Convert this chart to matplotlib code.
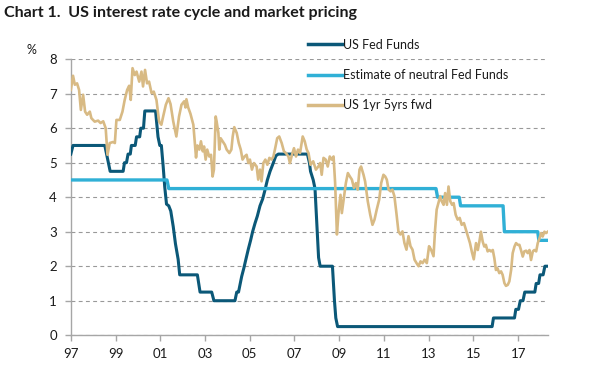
import numpy as np
import matplotlib
matplotlib.use("Agg")
import matplotlib.pyplot as plt

plt.rcParams['font.family'] = ['Lato', 'DejaVu Sans']

# US Fed Funds (upper bound)
ff_year = [1997.00, 1997.10, 1998.52, 1998.60, 1998.68, 1998.76, 1999.34, 1999.40, 1999.49,
           1999.56, 1999.66, 1999.71, 1999.88, 1999.94, 2000.08, 2000.13, 2000.25, 2000.31,
           2000.79, 2000.90, 2000.98, 2001.05, 2001.13, 2001.20, 2001.28, 2001.38, 2001.47,
           2001.58, 2001.68, 2001.80, 2001.87, 2002.66, 2002.78, 2003.30, 2003.40, 2004.34,
           2004.42, 2004.50, 2004.64, 2004.74, 2004.83, 2004.94, 2005.04, 2005.13, 2005.24,
           2005.34, 2005.46, 2005.58, 2005.68, 2005.79, 2005.91, 2006.03, 2006.17, 2006.28,
           2007.58, 2007.67, 2007.72, 2007.84, 2007.92, 2008.02, 2008.08, 2008.15, 2008.70,
           2008.79, 2008.85, 2008.93, 2015.84, 2015.90, 2016.84, 2016.90, 2017.02, 2017.10,
           2017.22, 2017.30, 2017.75, 2017.81, 2017.92, 2017.98, 2018.12, 2018.20, 2018.33]
ff_rate = [5.25, 5.50, 5.50, 5.25, 5.00, 4.75, 4.75, 5.00, 5.00,
           5.25, 5.25, 5.50, 5.50, 5.75, 5.75, 6.00, 6.00, 6.50,
           6.50, 5.75, 5.50, 5.50, 4.90, 4.30, 3.80, 3.75, 3.60,
           3.15, 2.65, 2.20, 1.75, 1.75, 1.25, 1.25, 1.00, 1.00,
           1.25, 1.25, 1.70, 1.95, 2.20, 2.50, 2.75, 3.00, 3.25,
           3.45, 3.75, 3.95, 4.20, 4.50, 4.75, 4.95, 5.20, 5.25,
           5.25, 5.00, 4.75, 4.50, 4.25, 3.00, 2.25, 2.00, 2.00,
           1.00, 0.50, 0.25, 0.25, 0.50, 0.50, 0.75, 0.75, 1.00,
           1.00, 1.25, 1.25, 1.50, 1.50, 1.75, 1.75, 2.00, 2.00]

# Estimate of neutral Fed Funds
nf_year = [1997.00, 2001.30, 2001.38, 2013.33, 2013.40, 2014.37, 2014.43,
           2016.33, 2016.39, 2017.88, 2017.93, 2018.33]
nf_rate = [4.50, 4.50, 4.25, 4.25, 4.00, 4.00, 3.75,
           3.75, 3.00, 3.00, 2.75, 2.75]

# US 1yr 5yrs forward
fw_year = [1997.00, 1997.10, 1997.18, 1997.28, 1997.37, 1997.45, 1997.55, 1997.64, 1997.73,
           1997.85, 1997.92, 1998.07, 1998.22, 1998.33, 1998.45, 1998.56, 1998.64, 1998.74,
           1998.89, 1998.97, 1999.04, 1999.19, 1999.31, 1999.41, 1999.52, 1999.61, 1999.68,
           1999.76, 1999.86, 1999.94, 2000.06, 2000.16, 2000.23, 2000.32, 2000.41, 2000.50,
           2000.61, 2000.71, 2000.83, 2000.95, 2001.05, 2001.13, 2001.25, 2001.37, 2001.46,
           2001.58, 2001.72, 2001.84, 2001.95, 2002.07, 2002.13, 2002.17, 2002.25, 2002.35,
           2002.48, 2002.60, 2002.66, 2002.75, 2002.82, 2002.90, 2002.96, 2003.03, 2003.10,
           2003.19, 2003.27, 2003.34, 2003.40, 2003.48, 2003.52, 2003.60, 2003.64, 2003.70,
           2003.79, 2003.89, 2003.97, 2004.09, 2004.18, 2004.24, 2004.31, 2004.42, 2004.51,
           2004.60, 2004.68, 2004.77, 2004.86, 2004.94, 2005.01, 2005.10, 2005.19, 2005.31,
           2005.38, 2005.46, 2005.53, 2005.61, 2005.70, 2005.79, 2005.88, 2005.98, 2006.06,
           2006.14, 2006.23, 2006.32, 2006.43, 2006.53, 2006.62, 2006.73, 2006.80, 2006.89,
           2006.98, 2007.07, 2007.16, 2007.25, 2007.37, 2007.46, 2007.55, 2007.63, 2007.72,
           2007.84, 2007.96, 2008.07, 2008.15, 2008.22, 2008.30, 2008.40, 2008.49, 2008.58,
           2008.67, 2008.75, 2008.82, 2008.90, 2008.97, 2009.06, 2009.12, 2009.19, 2009.30,
           2009.39, 2009.48, 2009.57, 2009.66, 2009.75, 2009.83, 2009.91, 2009.98, 2010.09,
           2010.16, 2010.28, 2010.39, 2010.49, 2010.58, 2010.68, 2010.79, 2010.88, 2010.98,
           2011.06, 2011.13, 2011.21, 2011.30, 2011.38, 2011.47, 2011.56, 2011.65, 2011.74,
           2011.83, 2011.92, 2012.01, 2012.10, 2012.19, 2012.28, 2012.37, 2012.46, 2012.55,
           2012.64, 2012.73, 2012.82, 2012.92, 2013.02, 2013.11, 2013.22, 2013.29, 2013.36,
           2013.44, 2013.52, 2013.59, 2013.67, 2013.74, 2013.82, 2013.89, 2013.97, 2014.05,
           2014.12, 2014.21, 2014.30, 2014.39, 2014.48, 2014.58, 2014.67, 2014.76, 2014.85,
           2014.94, 2015.02, 2015.12, 2015.20, 2015.27, 2015.34, 2015.42, 2015.49, 2015.56,
           2015.64, 2015.72, 2015.79, 2015.87, 2015.94, 2016.01, 2016.08, 2016.16, 2016.24,
           2016.31, 2016.39, 2016.46, 2016.54, 2016.61, 2016.69, 2016.76, 2016.84, 2016.91,
           2016.99, 2017.06, 2017.13, 2017.21, 2017.28, 2017.36, 2017.43, 2017.51, 2017.58,
           2017.66, 2017.73, 2017.81, 2017.88, 2017.96, 2018.03, 2018.10, 2018.18, 2018.25,
           2018.33]
fw_rate = [7.11, 7.52, 7.26, 7.30, 7.11, 6.53, 6.97, 6.48, 6.39,
           6.48, 6.29, 6.19, 6.22, 6.15, 6.20, 6.00, 5.23, 5.57,
           5.60, 5.57, 6.24, 6.24, 6.48, 6.82, 7.11, 7.23, 6.82,
           7.74, 7.54, 7.64, 7.35, 7.64, 7.21, 7.69, 7.30, 7.35,
           7.02, 7.06, 6.82, 6.19, 6.10, 6.34, 6.68, 6.87, 6.70,
           6.20, 5.76, 6.34, 6.68, 6.78, 6.60, 6.84, 6.60, 6.42,
           6.10, 5.15, 5.50, 5.38, 5.62, 5.33, 5.47, 5.09, 5.38,
           5.18, 5.23, 4.60, 4.80, 6.34, 6.20, 5.86, 5.38, 5.71,
           5.62, 5.52, 5.38, 5.28, 5.38, 5.76, 6.03, 5.86, 5.57,
           5.38, 5.09, 5.18, 5.23, 4.99, 5.09, 4.80, 4.99, 4.89,
           4.51, 4.80, 4.46, 4.99, 5.09, 4.94, 5.14, 5.09, 5.18,
           5.42, 5.71, 5.76, 5.57, 5.33, 5.28, 5.18, 4.99, 5.23,
           5.42, 5.18, 5.38, 5.28, 5.76, 5.62, 5.38, 5.28, 4.94,
           5.04, 4.80, 4.89, 4.99, 4.65, 5.14, 5.09, 4.89, 5.18,
           5.09, 5.18, 4.41, 2.92, 3.54, 4.07, 3.54, 3.88, 4.41,
           4.70, 4.60, 4.51, 4.27, 4.41, 4.22, 4.80, 4.89, 4.65,
           4.46, 3.88, 3.49, 3.20, 3.35, 3.64, 3.93, 4.41, 4.65,
           4.60, 4.51, 4.22, 4.17, 4.22, 4.03, 3.54, 3.01, 2.92,
           3.01, 2.67, 2.48, 2.87, 2.58, 2.48, 2.19, 2.09, 2.00,
           2.14, 2.09, 2.19, 2.09, 2.58, 2.48, 2.29, 3.06, 3.64,
           3.83, 4.03, 3.88, 3.78, 4.12, 3.78, 4.31, 3.88, 3.78,
           3.83, 3.49, 3.35, 3.40, 3.20, 3.25, 3.06, 2.87, 2.67,
           2.40, 2.20, 2.67, 2.47, 2.71, 3.00, 2.71, 2.57, 2.62,
           2.43, 2.47, 2.43, 2.47, 2.23, 1.89, 1.94, 1.80, 1.85,
           1.75, 1.51, 1.43, 1.46, 1.56, 1.89, 2.38, 2.57, 2.67,
           2.62, 2.62, 2.47, 2.28, 2.43, 2.45, 2.38, 2.47, 2.18,
           2.43, 2.47, 2.43, 2.67, 2.81, 2.96, 2.86, 3.00, 2.96,
           3.00]

x_ticks = [1997, 1999, 2001, 2003, 2005, 2007, 2009, 2011, 2013, 2015, 2017]
x_labels = ['97', '99', '01', '03', '05', '07', '09', '11', '13', '15', '17']

dark = '#0B5878'
light = '#30B0D6'
tan = '#D8BA84'
grey = '#A6A6A6'

fig = plt.figure(figsize=(6, 3.7), dpi=100)
ax = fig.add_axes([0.118, 0.094, 0.795, 0.746])

ax.plot(ff_year, ff_rate, color=dark, lw=2.2, zorder=3, label='US Fed Funds')
ax.plot(nf_year, nf_rate, color=light, lw=2.4, zorder=4, label='Estimate of neutral Fed Funds')
ax.plot(fw_year, fw_rate, color=tan, lw=1.9, zorder=5, label='US 1yr 5yrs fwd')

ax.set_xlim(1997, 2018.33)
ax.set_ylim(0, 8)
ax.set_xticks(x_ticks)
ax.set_xticklabels(x_labels)
ax.set_yticks(range(0, 9))
ax.yaxis.grid(True, color='#999999', ls=(0, (3.5, 3)), lw=0.8)
ax.set_axisbelow(True)
for s in ['top', 'right']:
    ax.spines[s].set_visible(False)
for s in ['left', 'bottom']:
    ax.spines[s].set_color(grey)
    ax.spines[s].set_linewidth(1.0)
ax.tick_params(axis='both', direction='out', length=4, width=1.0, color=grey,
               labelsize=9.5, labelcolor='#1a1a1a')
ax.tick_params(axis='y', pad=6)
ax.tick_params(axis='x', pad=5)

fig.text(0.007, 0.965, 'Chart 1.  US interest rate cycle and market pricing',
         fontsize=11.5, fontweight='bold', ha='left', va='center', color='#1a1a1a')
fig.text(0.052, 0.865, '%', fontsize=9, ha='center', va='center', color='#1a1a1a')

leg = ax.legend(loc='upper left', bbox_to_anchor=(0.513, 0.895), bbox_transform=fig.transFigure,
                frameon=False, fontsize=9, handlelength=2.7, handletextpad=0.15,
                labelspacing=1.45, borderpad=0, borderaxespad=0)
for line in leg.get_lines():
    line.set_linewidth(2.5)
for t in leg.get_texts():
    t.set_color('#1a1a1a')

fig.savefig('out.png', dpi=100)
